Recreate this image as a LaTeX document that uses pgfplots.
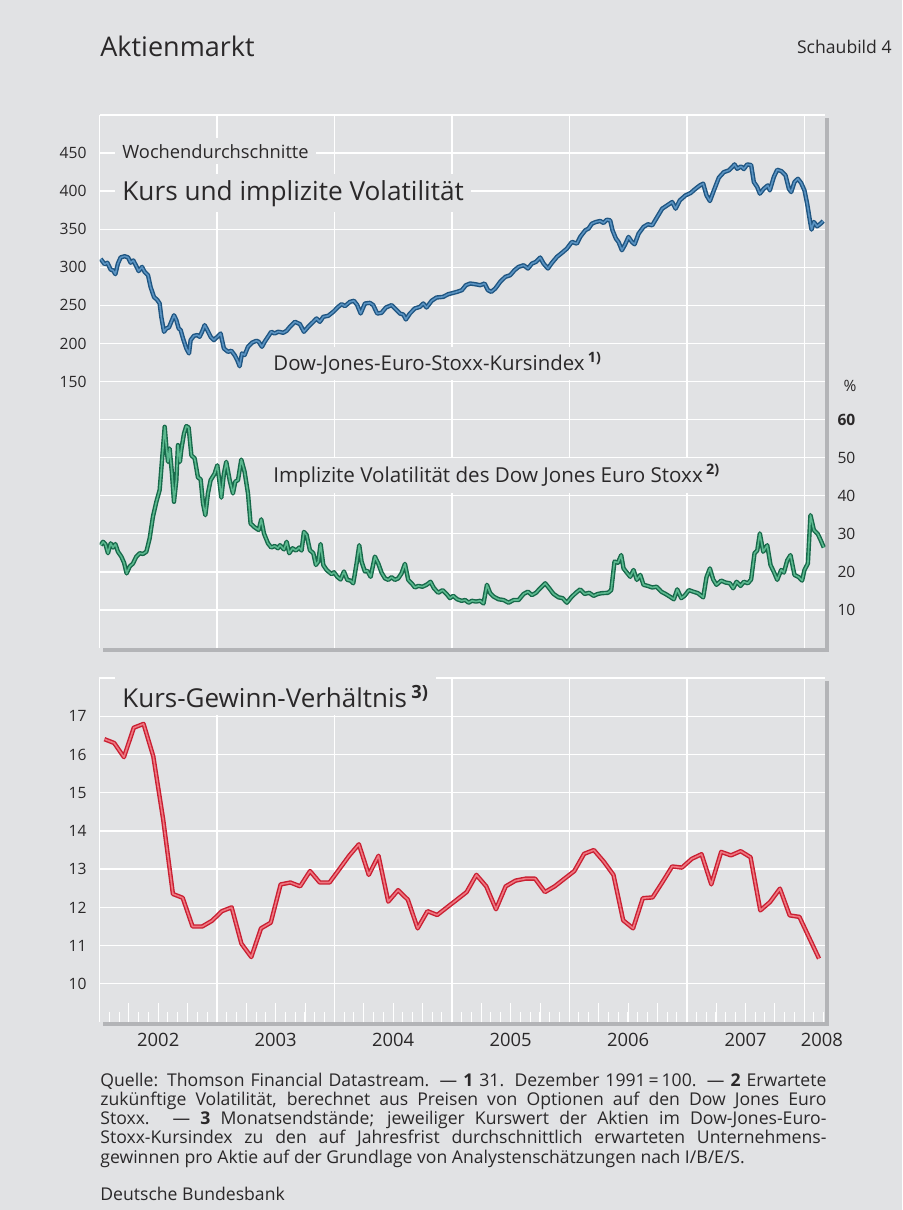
\documentclass[border=0pt]{standalone}
\usepackage{pgfplots}
\pgfplotsset{compat=1.18}
\usepackage{pgfplotstable}
\usepackage{fontspec}
\setmainfont{Open Sans}

\definecolor{bg}{HTML}{E1E2E4}
\definecolor{shadowc}{HTML}{B3B4B7}
\definecolor{ink}{HTML}{2A2829}
\definecolor{bluedark}{HTML}{1F5581}
\definecolor{bluelight}{HTML}{5A93C2}
\definecolor{greendark}{HTML}{17694A}
\definecolor{greenlight}{HTML}{5BB98F}
\definecolor{reddark}{HTML}{C91F32}
\definecolor{redlight}{HTML}{EF7781}

\newcommand\tickfont{\fontsize{7.8}{9}\selectfont}

% Dow-Jones-Euro-Stoxx-Kursindex, Wochendurchschnitte (31.12.1991 = 100)
\pgfplotstableread{
x y
2002.010 311
2002.044 304
2002.067 306
2002.095 297
2002.115 296
2002.135 291
2002.157 305
2002.180 313
2002.214 314.5
2002.243 313
2002.265 306
2002.288 309
2002.313 301.5
2002.333 295
2002.362 300.5
2002.384 294
2002.413 289.6
2002.435 274
2002.464 261
2002.492 257
2002.512 252.5
2002.526 235
2002.549 215.3
2002.569 219.7
2002.591 221
2002.611 228.4
2002.634 237
2002.654 230.6
2002.674 219.7
2002.691 217.5
2002.711 206.6
2002.739 193.4
2002.762 186.9
2002.776 204.4
2002.804 210
2002.833 211
2002.852 208.7
2002.872 215
2002.895 224
2002.918 217.5
2002.946 208.7
2002.974 204.4
2003.003 208.7
2003.031 213
2003.059 193.4
2003.094 189
2003.122 190.4
2003.150 184.7
2003.173 178
2003.193 170
2003.213 186.9
2003.235 184.7
2003.264 195.6
2003.298 201
2003.335 203.5
2003.355 202.2
2003.383 195.6
2003.406 202.2
2003.434 208.7
2003.462 215.3
2003.491 213
2003.519 215.3
2003.536 215
2003.564 214
2003.593 216.6
2003.621 221.9
2003.664 228.4
2003.706 225.4
2003.740 215.3
2003.777 221.9
2003.820 228.4
2003.848 232.8
2003.876 228.4
2003.905 235
2003.947 236.3
2003.990 241.5
2004.032 248
2004.061 251.6
2004.089 249
2004.132 254.6
2004.166 256
2004.194 250.3
2004.223 239.3
2004.259 252.4
2004.302 253.3
2004.330 250.3
2004.364 239.3
2004.401 240.2
2004.438 247.2
2004.486 250.3
2004.515 246
2004.557 239.3
2004.586 238
2004.608 231.5
2004.642 239.3
2004.685 246
2004.727 248
2004.756 252.5
2004.784 247.2
2004.827 256
2004.869 260.3
2004.926 261.2
2004.969 264.7
2005.011 266.4
2005.045 267.8
2005.085 270
2005.119 276.5
2005.156 278.7
2005.198 277.8
2005.241 276.5
2005.278 278.7
2005.306 270
2005.335 267.8
2005.369 272.1
2005.411 280.9
2005.454 287.4
2005.496 289.6
2005.533 296.2
2005.567 300.5
2005.610 302.7
2005.647 298.4
2005.681 304.9
2005.715 307.1
2005.752 312.8
2005.780 304.9
2005.817 298.4
2005.851 305.8
2005.894 313.7
2005.936 318.9
2005.979 324.6
2006.021 333.3
2006.064 331.1
2006.092 339.9
2006.135 348.6
2006.163 350.8
2006.191 357.3
2006.225 359.5
2006.262 360.8
2006.291 358.2
2006.319 362.5
2006.347 361.7
2006.367 348.6
2006.396 337.7
2006.418 333.3
2006.447 322.4
2006.475 330.2
2006.503 339.9
2006.532 333.3
2006.555 330.2
2006.589 344.2
2006.631 353
2006.668 356.5
2006.705 355.1
2006.747 366
2006.790 377
2006.833 381.4
2006.875 385.7
2006.904 377
2006.940 387.9
2006.989 394.5
2007.031 397.5
2007.074 403.2
2007.111 407.6
2007.139 409.8
2007.167 394.5
2007.196 387
2007.230 401
2007.272 417.7
2007.315 425
2007.357 427.3
2007.386 431.6
2007.406 435.1
2007.428 429.4
2007.462 432.5
2007.485 429
2007.513 435.1
2007.547 434.3
2007.570 412
2007.599 405.4
2007.621 396.7
2007.655 403.2
2007.689 407.6
2007.706 401
2007.740 418.5
2007.769 428.1
2007.803 426.4
2007.840 420.7
2007.868 403.2
2007.888 398.8
2007.916 412
2007.945 416.3
2007.973 410.7
2008.001 401
2008.024 383.5
2008.047 361.7
2008.061 349.5
2008.081 359.5
2008.109 353.8
2008.138 357.3
2008.160 360.8
}\idx

% implizite Volatilitaet, %
\pgfplotstableread{
x y
2002.010 27.0
2002.030 27.9
2002.050 27.3
2002.072 24.9
2002.095 27.5
2002.115 26.4
2002.135 27.3
2002.157 25.3
2002.186 24.0
2002.209 22.4
2002.231 19.6
2002.257 21.4
2002.285 22.2
2002.313 24.0
2002.342 24.9
2002.370 24.7
2002.399 25.3
2002.427 28.8
2002.455 34.5
2002.484 38.4
2002.512 41.5
2002.532 49.3
2002.555 58.1
2002.569 52.8
2002.583 48.9
2002.597 52.4
2002.617 45.8
2002.634 38.4
2002.654 44.1
2002.668 53.3
2002.685 48.9
2002.696 52.0
2002.719 56.3
2002.739 58.3
2002.759 57.9
2002.782 50.6
2002.810 49.8
2002.838 44.8
2002.861 44.3
2002.881 38.0
2002.901 34.9
2002.923 40.6
2002.946 44.1
2002.980 45.8
2003.003 48.0
2003.023 43.2
2003.037 39.5
2003.059 45.8
2003.079 48.9
2003.108 44.1
2003.136 40.6
2003.156 43.7
2003.179 44.1
2003.207 49.5
2003.235 46.3
2003.264 40.6
2003.286 32.7
2003.321 31.7
2003.355 31.0
2003.377 33.8
2003.400 30.1
2003.434 27.5
2003.462 26.4
2003.491 26.8
2003.519 26.2
2003.536 27.0
2003.570 25.9
2003.593 27.9
2003.615 24.9
2003.644 26.2
2003.672 25.6
2003.701 26.4
2003.720 25.6
2003.740 30.5
2003.763 29.7
2003.791 25.7
2003.820 24.9
2003.842 21.8
2003.862 22.7
2003.882 27.3
2003.905 21.8
2003.933 20.5
2003.976 19.4
2003.996 19.9
2004.024 18.7
2004.052 18.0
2004.081 20.1
2004.109 17.9
2004.137 17.7
2004.160 17.0
2004.188 22.1
2004.211 27.0
2004.231 22.7
2004.259 20.1
2004.279 20.3
2004.308 18.7
2004.344 24.0
2004.373 22.2
2004.401 19.8
2004.430 18.3
2004.458 17.9
2004.486 18.6
2004.515 17.9
2004.543 18.3
2004.571 19.6
2004.600 22.1
2004.628 17.9
2004.657 17.0
2004.685 15.9
2004.713 16.3
2004.750 16.1
2004.784 16.6
2004.818 17.4
2004.847 15.7
2004.884 14.5
2004.920 15.2
2004.954 14.2
2004.983 13.1
2005.011 13.7
2005.045 12.8
2005.082 12.4
2005.113 12.6
2005.142 11.9
2005.170 12.4
2005.204 12.2
2005.241 12.4
2005.269 11.7
2005.298 16.6
2005.326 14.4
2005.355 13.5
2005.397 12.8
2005.440 12.6
2005.482 11.9
2005.525 12.6
2005.567 12.6
2005.610 14.2
2005.647 14.8
2005.681 13.9
2005.715 14.5
2005.752 15.7
2005.794 17.0
2005.828 15.7
2005.865 14.2
2005.908 13.3
2005.942 13.1
2005.979 11.9
2006.015 13.3
2006.055 14.5
2006.092 15.4
2006.129 14.2
2006.169 14.5
2006.206 13.7
2006.242 14.2
2006.276 14.4
2006.328 14.5
2006.356 15.2
2006.384 22.7
2006.413 22.4
2006.441 24.4
2006.461 20.9
2006.489 19.8
2006.518 18.7
2006.546 20.5
2006.574 17.9
2006.603 19.2
2006.631 16.6
2006.668 16.3
2006.705 15.9
2006.742 16.1
2006.782 14.8
2006.818 14.2
2006.855 13.5
2006.889 12.8
2006.918 15.4
2006.952 13.1
2006.980 13.7
2007.017 15.2
2007.054 14.8
2007.094 14.4
2007.139 13.3
2007.167 18.6
2007.196 20.9
2007.224 18.0
2007.252 16.6
2007.292 17.7
2007.329 17.2
2007.366 17.0
2007.394 15.7
2007.423 17.4
2007.457 16.3
2007.485 17.4
2007.519 17.0
2007.547 18.0
2007.576 24.9
2007.599 25.6
2007.621 30.1
2007.650 25.3
2007.684 27.0
2007.712 21.8
2007.746 19.6
2007.769 17.9
2007.803 20.5
2007.826 19.8
2007.854 23.0
2007.882 24.4
2007.916 19.2
2007.953 18.6
2007.981 17.7
2008.001 20.5
2008.030 22.2
2008.052 34.9
2008.081 31.0
2008.115 29.9
2008.138 28.4
2008.166 26.4
}\vol

% Kurs-Gewinn-Verhaeltnis, Monatsendstaende
\pgfplotstableread{
x y
2002.042 16.4
2002.125 16.3
2002.208 15.93
2002.292 16.7
2002.375 16.8
2002.458 15.95
2002.542 14.3
2002.625 12.35
2002.708 12.25
2002.792 11.5
2002.875 11.5
2002.958 11.65
2003.042 11.9
2003.125 12.0
2003.208 11.05
2003.292 10.7
2003.375 11.45
2003.458 11.6
2003.542 12.6
2003.625 12.65
2003.708 12.55
2003.792 12.95
2003.875 12.65
2003.958 12.65
2004.042 13.0
2004.125 13.35
2004.208 13.65
2004.292 12.85
2004.375 13.35
2004.458 12.15
2004.542 12.45
2004.625 12.2
2004.708 11.45
2004.792 11.9
2004.875 11.8
2004.958 12.0
2005.042 12.2
2005.125 12.4
2005.208 12.85
2005.292 12.55
2005.375 11.95
2005.458 12.55
2005.542 12.7
2005.625 12.75
2005.708 12.75
2005.792 12.4
2005.875 12.55
2005.958 12.75
2006.042 12.95
2006.125 13.4
2006.208 13.5
2006.292 13.2
2006.375 12.85
2006.458 11.66
2006.542 11.45
2006.625 12.24
2006.708 12.26
2006.792 12.66
2006.875 13.07
2006.958 13.04
2007.042 13.27
2007.125 13.39
2007.208 12.60
2007.292 13.45
2007.375 13.36
2007.458 13.47
2007.542 13.31
2007.625 11.92
2007.708 12.14
2007.792 12.49
2007.875 11.79
2007.958 11.75
2008.042 11.2
2008.125 10.66
}\kgv

\pgfplotsset{
  panel/.style={
    scale only axis, width=363pt, anchor=south west,
    xmin=2002, xmax=2008.18,
    axis line style={draw=none},
    major tick length=0pt,
    ticklabel style={font=\tickfont, text=ink},
  },
  outer/.style={draw=#1dark, line width=2.2pt, line join=round},
  inner/.style={draw=#1light, line width=0.8pt, line join=round},
}

\begin{document}
\begin{tikzpicture}
\fill[bg] (0,0) rectangle (451pt,-605pt);
\path[use as bounding box] (0,0) rectangle (451pt,-605pt);
% Schatten der Schaubildflaechen
\fill[shadowc] (51.5pt,-59pt) rectangle (414.5pt,-325.75pt);
\fill[shadowc] (51.5pt,-340.5pt) rectangle (414.5pt,-512.75pt);

% oben: Kursindex (linke Skala)
\begin{axis}[panel, at={(49.75pt,-324pt)}, height=266.5pt,
  ymin=-200, ymax=500,
  axis background/.style={fill=bg},
  xtick={2002,...,2008}, xticklabels={},
  ytick={-150,-100,...,500},
  yticklabels={,,,,,,150,200,250,300,350,400,450,{}},
  grid=major, grid style={white, line width=0.7pt},
  yticklabel style={xshift=-3pt},
]
\addplot[outer=blue] table {\idx};
\addplot[inner=blue] table {\idx};
\end{axis}

% oben: Volatilitaet (rechte Skala)
\begin{axis}[panel, at={(49.75pt,-324pt)}, height=266.5pt,
  ymin=0, ymax=140,
  axis y line*=right, axis x line=none,
  ytick={10,20,...,60},
  yticklabels={10,20,30,40,50,\textbf{60}},
  yticklabel style={xshift=2.5pt},
]
\addplot[outer=green] table {\vol};
\addplot[inner=green] table {\vol};
\end{axis}

% unten: KGV; Quartalsstriche lang, Monatsstriche kurz
\begin{axis}[panel, at={(49.75pt,-511pt)}, height=172pt,
  ymin=9, ymax=18,
  axis background/.style={fill=bg},
  ytick={10,...,18}, yticklabels={10,11,12,13,14,15,16,17,{}},
  ymajorgrids, grid style={white, line width=0.7pt},
  xtick={2002,2002.25,2002.5,2002.75,2003,2003.25,2003.5,2003.75,
         2004,2004.25,2004.5,2004.75,2005,2005.25,2005.5,2005.75,
         2006,2006.25,2006.5,2006.75,2007,2007.25,2007.5,2007.75,2008},
  xticklabels={{},{},2002,{},{},{},2003,{},{},{},2004,{},{},{},2005,{},
               {},{},2006,{},{},{},2007,{},{\makebox[0pt][l]{\hspace*{-1.75pt}2008}}},
  xticklabel style={font=\fontsize{9.2}{10}\selectfont, yshift=-2pt},
  extra x ticks={2002,2003,2004,2005,2006,2007,2008},
  extra x tick labels={},
  extra x tick style={grid=major},
  minor xtick={2002,2002.0833333,...,2008.2},
  major tick length=9.5pt, minor tick length=5pt,
  tick align=inside, xtick pos=left, ytick pos=left,
  tick style={draw=white, line width=0.5pt},
  minor tick style={draw=white, line width=0.5pt},
  yticklabel style={xshift=-3pt},
]
\addplot[outer=red] table {\kgv};
\addplot[inner=red] table {\kgv};
\end{axis}

% Beschriftungen
\node[anchor=base west, inner sep=0pt, text=ink, font=\fontsize{13.5}{16}\selectfont]
  at (50pt,-28pt) {Aktienmarkt};
\node[anchor=base east, inner sep=0pt, text=ink, font=\fontsize{8.8}{10}\selectfont]
  at (446pt,-27pt) {Schaubild 4};

\node[anchor=base west, fill=bg, inner xsep=3.5pt, inner ysep=3pt, text=ink,
  font=\fontsize{9.15}{10}\selectfont] at (57.5pt,-79pt) {Wochendurchschnitte};
\node[anchor=base west, fill=bg, inner xsep=3.5pt, inner ysep=3pt, text=ink,
  font=\fontsize{13.1}{15}\selectfont] at (57.5pt,-100pt) {Kurs und implizite Volatilität};
\node[anchor=base west, fill=bg, inner xsep=3.5pt, inner ysep=3pt, text=ink,
  font=\fontsize{10.2}{12}\selectfont] at (133pt,-185pt)
  {Dow-Jones-Euro-Stoxx-Kursindex\,\textsuperscript{\bfseries 1)}};
\node[text=ink, font=\tickfont] at (425pt,-193pt) {\%};
\node[anchor=base west, fill=bg, inner xsep=3.5pt, inner ysep=3pt, text=ink,
  font=\fontsize{10.3}{12}\selectfont] at (133pt,-241pt)
  {Implizite Volatilität des Dow Jones Euro Stoxx\,\textsuperscript{\bfseries 2)}};
\node[anchor=base west, fill=bg, inner xsep=3.5pt, inner ysep=4pt, text=ink,
  font=\fontsize{13}{15}\selectfont] at (57.5pt,-353.5pt)
  {Kurs-Gewinn-Verhältnis\,\textsuperscript{\bfseries 3)}};

\node[anchor=base west, inner sep=0pt, text=ink, align=left,
  font=\fontsize{8.8}{9.65}\selectfont] at (50pt,-581.6pt)
  {\makebox[363pt][s]{Quelle: Thomson Financial Datastream. — {\bfseries 1} 31. Dezember 1991\,=\,100. — {\bfseries 2} Erwartete}\\
   \makebox[363pt][s]{zukünftige Volatilität, berechnet aus Preisen von Optionen auf den Dow Jones Euro}\\
   \makebox[363pt][s]{Stoxx. — {\bfseries 3} Monatsendstände; jeweiliger Kurswert der Aktien im Dow-Jones-Euro-}\\
   \makebox[363pt][s]{Stoxx-Kursindex zu den auf Jahresfrist durchschnittlich erwarteten Unternehmens-}\\
   gewinnen pro Aktie auf der Grundlage von Analystenschätzungen nach I/B/E/S.};
\node[anchor=base west, inner sep=0pt, text=ink, font=\fontsize{8.8}{10}\selectfont]
  at (50pt,-600pt) {Deutsche Bundesbank};
\end{tikzpicture}
\end{document}
